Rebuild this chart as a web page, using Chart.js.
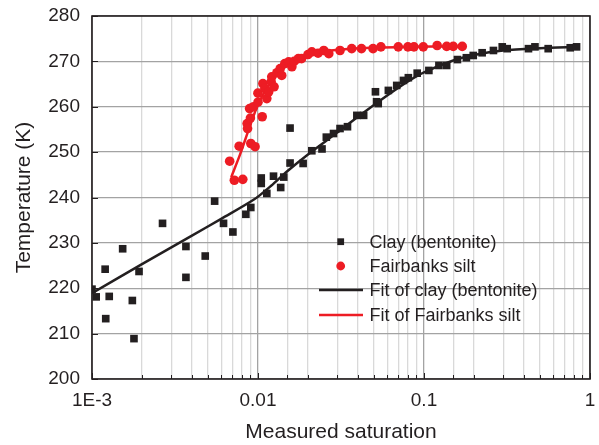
<!DOCTYPE html>
<html>
<head>
<meta charset="utf-8">
<script src="https://cdn.jsdelivr.net/npm/chart.js@4"></script>
<style>
  body { margin: 0; background: #fff; }
  canvas { display: block; }
</style>
</head>
<body>
<canvas id="chart" width="599" height="445"></canvas>
<script>
const clayX = [
  0.001, 0.00106, 0.0012, 0.00121, 0.00127, 0.00153, 0.00175, 0.00179, 0.00192,
  0.00266, 0.00368, 0.00368, 0.00481, 0.00548, 0.0062, 0.00706, 0.00845, 0.00905,
  0.01046, 0.01046, 0.0113, 0.0124, 0.0137, 0.0143, 0.0156, 0.0156, 0.0187, 0.0211,
  0.0243, 0.0258, 0.0285, 0.0312, 0.0346, 0.0394, 0.0433, 0.051, 0.0518, 0.053,
  0.061, 0.0685, 0.0752, 0.0805, 0.091, 0.107, 0.123, 0.137, 0.159, 0.18, 0.198,
  0.224, 0.262, 0.296, 0.317, 0.426, 0.466, 0.56, 0.76, 0.83,
];
const clayY = [
  219.8, 218.1, 224.2, 213.3, 218.2, 228.7, 217.3, 208.9, 223.7,
  234.3, 229.2, 222.4, 227.1, 239.2, 234.3, 232.4, 236.3, 237.8,
  244.3, 243.1, 240.9, 244.7, 242.2, 244.5, 255.3, 247.6, 247.5, 250.3,
  250.7, 253.3, 254.1, 255.2, 255.6, 258.1, 258.1, 263.3, 261.1, 260.7,
  263.6, 264.7, 265.8, 266.4, 267.4, 268.0, 269.1, 269.1, 270.4, 270.8, 271.3,
  271.9, 272.4, 273.2, 272.8, 272.8, 273.2, 272.8, 273.0, 273.2,
];

const siltX = [
  0.00675, 0.0072, 0.0077, 0.0081, 0.0086, 0.00865, 0.0089, 0.009, 0.00905, 0.0094,
  0.0096, 0.00999, 0.0100, 0.0106, 0.0107, 0.011, 0.0113, 0.0116, 0.012, 0.0121,
  0.0125, 0.013, 0.0136, 0.0139, 0.0145, 0.0153, 0.016, 0.0165, 0.0175, 0.0183,
  0.020, 0.0211, 0.023, 0.0249, 0.0267, 0.0312, 0.0367, 0.042, 0.0493, 0.055,
  0.070, 0.080, 0.087, 0.099, 0.12, 0.137, 0.15, 0.17,
];
const siltY = [
  248.0, 243.8, 251.3, 244.0, 256.3, 255.2, 259.6, 257.5, 251.9, 260.0,
  251.2, 263.0, 261.0, 257.8, 265.1, 264.0, 261.8, 263.3, 265.5, 266.6,
  264.4, 267.5, 268.4, 266.9, 269.5, 269.9, 268.8, 270.0, 270.6, 270.6,
  271.5, 272.1, 271.8, 272.4, 271.7, 272.4, 272.8, 272.8, 272.8, 273.2,
  273.2, 273.2, 273.2, 273.2, 273.5, 273.3, 273.3, 273.3,
];

const clayFitX = [0.001, 0.002, 0.004, 0.006, 0.0095, 0.012, 0.015, 0.02, 0.03, 0.04, 0.06, 0.08, 0.1, 0.15, 0.2, 0.3, 0.5, 0.85];
const clayFitY = [218.9, 225.3, 231.6, 235.3, 239.6, 242.6, 245.8, 249.5, 254.3, 257.8, 262.5, 265.6, 267.6, 270.2, 271.4, 272.4, 272.9, 273.2];

const siltFitX = [0.0069, 0.0078, 0.0088, 0.01, 0.0115, 0.013, 0.015, 0.018, 0.025, 0.04, 0.08, 0.17];
const siltFitY = [244.5, 249.5, 255.0, 260.5, 264.5, 267.0, 269.2, 270.8, 272.2, 272.9, 273.2, 273.3];

const xTickLabels = { '0.001': '1E-3', '0.01': '0.01', '0.1': '0.1', '1': '1' };

const ink = '#231f20';
const red = '#ed1c24';
const fontFamily = '"Liberation Sans", Arial, Helvetica, sans-serif';

const toPoints = (xs, ys) => xs.map((x, i) => ({ x, y: ys[i] }));

function isDecade(v) {
  const l = Math.log10(v);
  return Math.abs(l - Math.round(l)) < 1e-6;
}

const framePlugin = {
  id: 'frame',
  afterDraw(chart) {
    const { ctx, chartArea: a, scales } = chart;
    ctx.save();
    ctx.strokeStyle = ink;
    ctx.lineWidth = 1;
    ctx.beginPath();
    for (const t of scales.x.ticks) {
      const px = Math.round(scales.x.getPixelForValue(t.value)) + 0.5;
      const len = isDecade(t.value) ? 6 : 4;
      ctx.moveTo(px, a.bottom);
      ctx.lineTo(px, a.bottom - len);
    }
    for (const t of scales.y.ticks) {
      const py = Math.round(scales.y.getPixelForValue(t.value)) + 0.5;
      const len = t.value % 10 === 0 ? 6 : 4;
      ctx.moveTo(a.left, py);
      ctx.lineTo(a.left + len, py);
    }
    ctx.stroke();
    ctx.lineWidth = 1.6;
    ctx.strokeRect(a.left, a.top, a.right - a.left, a.bottom - a.top);
    ctx.restore();
  },
};

const legendPlugin = {
  id: 'insideLegend',
  afterDraw(chart) {
    const { ctx } = chart;
    const rows = [241.7, 266, 290, 315];
    ctx.save();
    ctx.font = '18px ' + fontFamily;
    ctx.textBaseline = 'middle';
    ctx.fillStyle = ink;
    chart.data.datasets.forEach((ds, i) => {
      const y = rows[i];
      if (ds.showLine) {
        ctx.strokeStyle = ds.borderColor;
        ctx.lineWidth = 2.5;
        ctx.beginPath();
        ctx.moveTo(319, y);
        ctx.lineTo(363, y);
        ctx.stroke();
      } else {
        ctx.fillStyle = ds.backgroundColor;
        Chart.helpers.drawPoint(ctx, {
          pointStyle: ds.pointStyle,
          radius: ds.pointStyle === 'rect' ? 4.8 : 4.4,
          rotation: 0,
          borderWidth: 0,
        }, 340.7, y);
      }
      ctx.fillStyle = ink;
      ctx.fillText(ds.label, 369.5, y + 1);
    });
    ctx.restore();
  },
};

new Chart(document.getElementById('chart'), {
  type: 'scatter',
  data: {
    datasets: [
      {
        label: 'Clay (bentonite)',
        data: toPoints(clayX, clayY),
        pointStyle: 'rect',
        pointRadius: 5.4,
        backgroundColor: ink,
        borderColor: ink,
        borderWidth: 0,
        order: 1,
      },
      {
        label: 'Fairbanks silt',
        data: toPoints(siltX, siltY),
        pointStyle: 'circle',
        pointRadius: 4.8,
        backgroundColor: red,
        borderColor: red,
        borderWidth: 0,
        order: 0,
      },
      {
        label: 'Fit of clay (bentonite)',
        data: toPoints(clayFitX, clayFitY),
        showLine: true,
        pointRadius: 0,
        borderColor: ink,
        borderWidth: 2.5,
        tension: 0.3,
        order: 3,
      },
      {
        label: 'Fit of Fairbanks silt',
        data: toPoints(siltFitX, siltFitY),
        showLine: true,
        pointRadius: 0,
        borderColor: red,
        borderWidth: 2.5,
        tension: 0.3,
        order: 2,
      },
    ],
  },
  options: {
    responsive: false,
    animation: false,
    layout: { padding: { top: 16, right: 9, left: 0, bottom: 0 } },
    plugins: {
      legend: { display: false },
      tooltip: { enabled: false },
    },
    scales: {
      x: {
        type: 'logarithmic',
        min: 0.001,
        max: 1,
        afterFit: (scale) => {
          scale.height = 66;
          scale.paddingLeft = 0;
          scale.paddingRight = 0;
        },
        border: { display: false },
        grid: {
          drawTicks: false,
          lineWidth: 1.3,
          color: (c) => (c.tick && isDecade(c.tick.value) ? '#a3a3a3' : '#d9d9d9'),
        },
        ticks: {
          autoSkip: false,
          maxRotation: 0,
          padding: 10,
          color: ink,
          font: { family: fontFamily, size: 19 },
          callback: (v) => (isDecade(v) ? xTickLabels[String(v)] : ''),
        },
        title: {
          display: true,
          text: 'Measured saturation',
          color: ink,
          font: { family: fontFamily, size: 21 },
          padding: { top: 0, bottom: 0 },
        },
      },
      y: {
        min: 200,
        max: 280,
        afterFit: (scale) => {
          scale.width = 92;
          scale.paddingTop = 0;
          scale.paddingBottom = 0;
        },
        border: { display: false },
        grid: {
          drawTicks: false,
          lineWidth: 1.3,
          color: (c) => (c.tick && c.tick.value % 10 === 0 ? '#a3a3a3' : '#d9d9d9'),
        },
        ticks: {
          stepSize: 5,
          padding: 12,
          color: ink,
          font: { family: fontFamily, size: 19 },
          callback: (v) => (v % 10 === 0 ? v : ''),
        },
        title: {
          display: true,
          text: 'Temperature (K)',
          color: ink,
          font: { family: fontFamily, size: 21 },
          padding: { top: 12, bottom: 0 },
        },
      },
    },
  },
  plugins: [framePlugin, legendPlugin],
});
</script>
</body>
</html>
